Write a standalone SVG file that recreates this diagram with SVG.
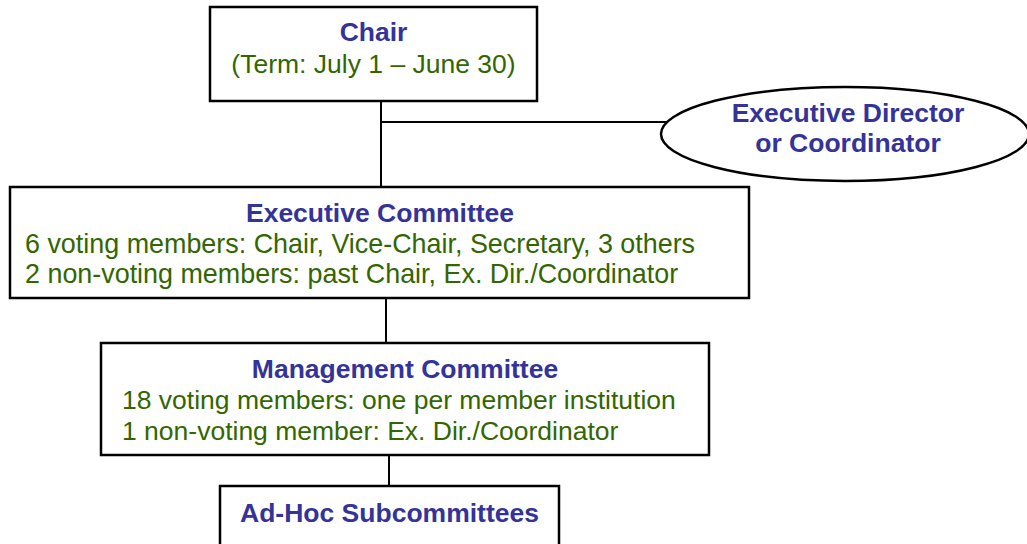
<svg xmlns="http://www.w3.org/2000/svg" width="1027" height="544" viewBox="0 0 1027 544">
<style>
.box{fill:#fff;stroke:#000;stroke-width:2.5}
.ln{stroke:#000;stroke-width:2;fill:none}
.t{font-family:"Liberation Sans",Arial,sans-serif;font-size:26.5px;font-weight:bold;fill:#333399;text-anchor:middle}
.g{font-family:"Liberation Sans",Arial,sans-serif;font-size:26.5px;fill:#336600}
.gw{font-size:26.9px}
.gc{text-anchor:middle}
</style>
<rect width="1027" height="544" fill="#fff"/>
<g id="connectors">
<line class="ln" x1="381" y1="101" x2="381" y2="187"/>
<line class="ln" x1="381" y1="122" x2="668" y2="122"/>
<line class="ln" x1="386" y1="298" x2="386" y2="343"/>
<line class="ln" x1="389" y1="455" x2="389" y2="486"/>
</g>
<g id="chair">
<rect class="box" x="210" y="7" width="327" height="94"/>
<text class="t" x="373.5" y="41">Chair</text>
<text class="g gc" x="373.5" y="73">(Term: July 1 – June 30)</text>
</g>
<g id="exec-director">
<ellipse class="box" cx="845" cy="134" rx="184" ry="47"/>
<text class="t" x="848" y="122">Executive Director</text>
<text class="t" x="848" y="152">or Coordinator</text>
</g>
<g id="exec-committee">
<rect class="box" x="10" y="187" width="739" height="111"/>
<text class="t" x="380" y="222">Executive Committee</text>
<text class="g gw" x="25" y="253">6 voting members: Chair, Vice-Chair, Secretary, 3 others</text>
<text class="g gw" x="25" y="283">2 non-voting members: past Chair, Ex. Dir./Coordinator</text>
</g>
<g id="mgmt-committee">
<rect class="box" x="101" y="343" width="608" height="112"/>
<text class="t" x="405" y="378">Management Committee</text>
<text class="g" x="122" y="409">18 voting members: one per member institution</text>
<text class="g" x="122" y="440">1 non-voting member: Ex. Dir./Coordinator</text>
</g>
<g id="adhoc">
<rect class="box" x="220" y="486" width="339" height="70"/>
<text class="t" x="389.5" y="522">Ad-Hoc Subcommittees</text>
</g>
</svg>
